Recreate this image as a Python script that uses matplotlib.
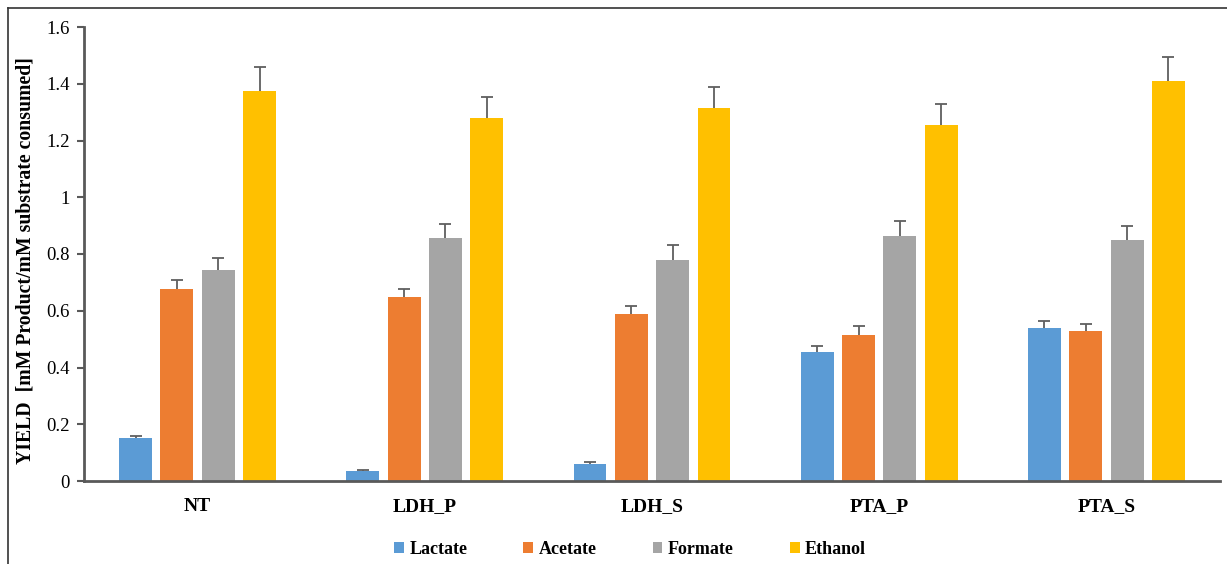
import matplotlib
matplotlib.use("Agg")
import matplotlib.pyplot as plt
from matplotlib.lines import Line2D
import numpy as np

plt.rcParams['font.family'] = ['Liberation Serif', 'DejaVu Serif']

strains = ["NT", "LDH_P", "LDH_S", "PTA_P", "PTA_S"]
products = ["Lactate", "Acetate", "Formate", "Ethanol"]
colors = ["#5B9BD5", "#ED7D31", "#A5A5A5", "#FFC000"]

lactate = [0.150, 0.035, 0.060, 0.455, 0.538]
acetate = [0.675, 0.648, 0.588, 0.515, 0.528]
formate = [0.745, 0.858, 0.780, 0.863, 0.848]
ethanol = [1.375, 1.278, 1.315, 1.255, 1.410]

lactate_err = [0.010, 0.005, 0.007, 0.022, 0.025]
acetate_err = [0.035, 0.030, 0.029, 0.030, 0.027]
formate_err = [0.040, 0.047, 0.050, 0.052, 0.049]
ethanol_err = [0.085, 0.077, 0.075, 0.075, 0.085]

series = [lactate, acetate, formate, ethanol]
errors = [lactate_err, acetate_err, formate_err, ethanol_err]

fig = plt.figure(figsize=(12.27, 5.64), dpi=100)
ax = fig.add_axes([84 / 1227, 1 - 481 / 564, 1136 / 1227, 454 / 564])

x = np.arange(len(strains))
pitch = 0.182
width = 0.145
offsets = (np.arange(len(products)) - 1.5) * pitch

for vals, errs, off, col, name in zip(series, errors, offsets, colors, products):
    ax.bar(x + off, vals, width=width, color=col, label=name, zorder=2)
    eb = ax.errorbar(x + off, vals, yerr=[np.zeros(len(errs)), errs], fmt="none",
                     ecolor="#5f5f5f", elinewidth=1.3, capsize=4, capthick=1.3, zorder=3)
    # only the upper cap is shown
    eb[1][0].set_visible(False)

ax.set_xlim(-0.5, len(strains) - 0.5)
ax.set_ylim(0, 1.6)
ax.set_yticks([0, 0.2, 0.4, 0.6, 0.8, 1.0, 1.2, 1.4, 1.6])
ax.set_yticklabels(["0", "0.2", "0.4", "0.6", "0.8", "1", "1.2", "1.4", "1.6"], fontsize=13.5)
ax.set_xticks(x)
ax.set_xticklabels(strains, fontsize=14, fontweight="bold")
ax.tick_params(axis="x", length=0, pad=12)
ax.tick_params(axis="y", length=5, width=1.5, color="#595959", pad=5, direction="out")

for side in ["top", "right"]:
    ax.spines[side].set_visible(False)
for side in ["left", "bottom"]:
    ax.spines[side].set_color("#595959")
    ax.spines[side].set_linewidth(2)

ax.set_ylabel("YIELD  [mM Product/mM substrate consumed]", fontsize=14.2,
              fontweight="bold", va="center")
ax.yaxis.set_label_coords(-0.0515, 0.4846)

leg = fig.legend(loc="center", bbox_to_anchor=(630 / 1227, 1 - 549 / 564), ncol=4,
                 frameon=False, handlelength=0.55, handleheight=0.55, handletextpad=0.3,
                 columnspacing=3.1, prop={"size": 13, "weight": "bold"})

# outer frame lines
fig.add_artist(Line2D([8 / 1227, 8 / 1227], [0, 1 - 8 / 564], transform=fig.transFigure,
                      color="#333333", linewidth=1.2))
fig.add_artist(Line2D([8 / 1227, 1], [1 - 8 / 564, 1 - 8 / 564], transform=fig.transFigure,
                      color="#333333", linewidth=1.2))

fig.savefig("out.png", dpi=100)
